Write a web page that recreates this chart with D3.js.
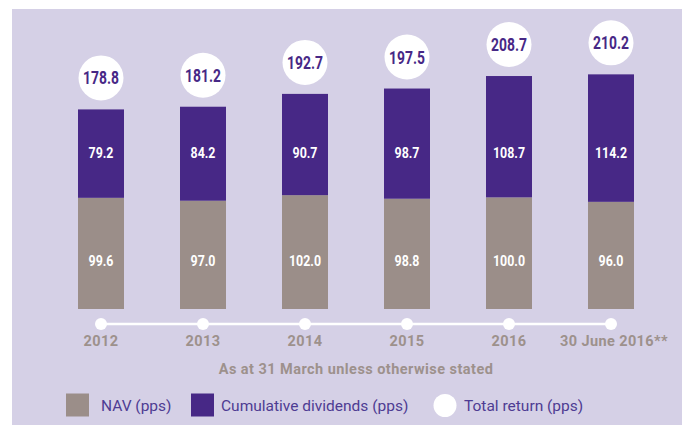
<!DOCTYPE html>
<html>
<head>
<meta charset="utf-8">
<script src="https://cdn.jsdelivr.net/npm/d3@7"></script>
<style>
  body { margin: 0; background: #fff; }
  svg { display: block; }
</style>
</head>
<body>
<div id="chart"></div>
<script>
const years = ['2012', '2013', '2014', '2015', '2016', '30 June 2016**']
const nav = [99.6, 97.0, 102.0, 98.8, 100.0, 96.0]
const dividends = [79.2, 84.2, 90.7, 98.7, 108.7, 114.2]
const totals = [178.8, 181.2, 192.7, 197.5, 208.7, 210.2]

const W = 684
const H = 425
const purple = '#472886'
const grey = '#9b8e89'
const lavender = '#d5d0e6'
const labelGrey = '#9d918c'
const legendText = '#4e3c93'
const sans = 'Roboto, "Open Sans", sans-serif'

const barW = 46
const baseline = 309
const circleR = 22.5
// the source uses a condensed face; squeeze Roboto horizontally instead
const squeeze = 0.8

const svg = d3.select('#chart')
  .append('svg')
  .attr('width', W)
  .attr('height', H)

// panel background
svg.append('rect')
  .attr('x', 12)
  .attr('y', 9)
  .attr('width', 670)
  .attr('height', H - 9)
  .attr('fill', lavender)

const data = years.map((y, i) => ({ year: y, nav: nav[i], div: dividends[i], total: totals[i] }))

const xs = d3.scalePoint()
  .domain(years)
  .range([101, 611])

const ys = d3.scaleLinear()
  .domain([0, 215])
  .range([baseline, 69])

// stacked bars
const bars = svg.selectAll('.bar')
  .data(data)
  .enter()
  .append('g')
  .classed('bar', true)

bars.append('rect')
  .attr('x', (d) => xs(d.year) - barW / 2)
  .attr('y', (d) => ys(d.nav))
  .attr('width', barW)
  .attr('height', (d) => ys(0) - ys(d.nav))
  .attr('fill', grey)

bars.append('rect')
  .attr('x', (d) => xs(d.year) - barW / 2)
  .attr('y', (d) => ys(d.nav + d.div))
  .attr('width', barW)
  .attr('height', (d) => ys(d.nav) - ys(d.nav + d.div))
  .attr('fill', purple)

// values inside the bars sit on a common line
bars.append('text')
  .attr('transform', (d) => `translate(${xs(d.year)},157.5) scale(${squeeze},1)`)
  .attr('text-anchor', 'middle')
  .attr('fill', '#fff')
  .style('font', `bold 15.5px ${sans}`)
  .text((d) => d.div.toFixed(1))

bars.append('text')
  .attr('transform', (d) => `translate(${xs(d.year)},266) scale(${squeeze},1)`)
  .attr('text-anchor', 'middle')
  .attr('fill', '#fff')
  .style('font', `bold 15.5px ${sans}`)
  .text((d) => d.nav.toFixed(1))

// total return bubbles
bars.append('circle')
  .attr('cx', (d) => xs(d.year))
  .attr('cy', (d) => ys(d.total) - 9 - circleR)
  .attr('r', circleR)
  .attr('fill', '#fff')

bars.append('text')
  .attr('transform', (d) => `translate(${xs(d.year)},${ys(d.total) - 9 - circleR + 6.5}) scale(0.77,1)`)
  .attr('text-anchor', 'middle')
  .attr('fill', purple)
  .style('font', `bold 18px ${sans}`)
  .text((d) => d.total.toFixed(1))

// timeline
svg.append('path')
  .attr('d', `M${xs(years[0])},324H${xs(years[years.length - 1])}`)
  .attr('stroke', '#fff')
  .attr('stroke-width', 2.5)

svg.selectAll('.dot')
  .data(years)
  .enter()
  .append('circle')
  .classed('dot', true)
  .attr('cx', (d) => xs(d))
  .attr('cy', 324)
  .attr('r', 6)
  .attr('fill', '#fff')

svg.selectAll('.year')
  .data(years)
  .enter()
  .append('text')
  .classed('year', true)
  .attr('x', (d, i) => xs(d) + (i === years.length - 1 ? 3 : 0))
  .attr('y', 346)
  .attr('text-anchor', 'middle')
  .attr('fill', labelGrey)
  .style('font', `bold 14.5px ${sans}`)
  .style('letter-spacing', '0.4px')
  .text((d) => d)

svg.append('text')
  .attr('x', 356)
  .attr('y', 374)
  .attr('text-anchor', 'middle')
  .attr('fill', labelGrey)
  .style('font', `bold 14.5px ${sans}`)
  .style('letter-spacing', '0.45px')
  .text('As at 31 March unless otherwise stated')

// legend
const legendY = 405
const legend = svg.append('g')

legend.append('rect')
  .attr('x', 66).attr('y', legendY - 11.5)
  .attr('width', 23).attr('height', 23)
  .attr('fill', grey)
legend.append('text')
  .attr('x', 101).attr('y', legendY + 5.5)
  .attr('fill', legendText)
  .style('font', `15.5px ${sans}`)
  .text('NAV (pps)')

legend.append('rect')
  .attr('x', 191).attr('y', legendY - 11.5)
  .attr('width', 23).attr('height', 23)
  .attr('fill', purple)
legend.append('text')
  .attr('x', 221).attr('y', legendY + 5.5)
  .attr('fill', legendText)
  .style('font', `15.5px ${sans}`)
  .text('Cumulative dividends (pps)')

legend.append('circle')
  .attr('cx', 445).attr('cy', legendY + 0.5)
  .attr('r', 11.5)
  .attr('fill', '#fff')
legend.append('text')
  .attr('x', 464).attr('y', legendY + 5.5)
  .attr('fill', legendText)
  .style('font', `15.5px ${sans}`)
  .text('Total return (pps)')
</script>
</body>
</html>
